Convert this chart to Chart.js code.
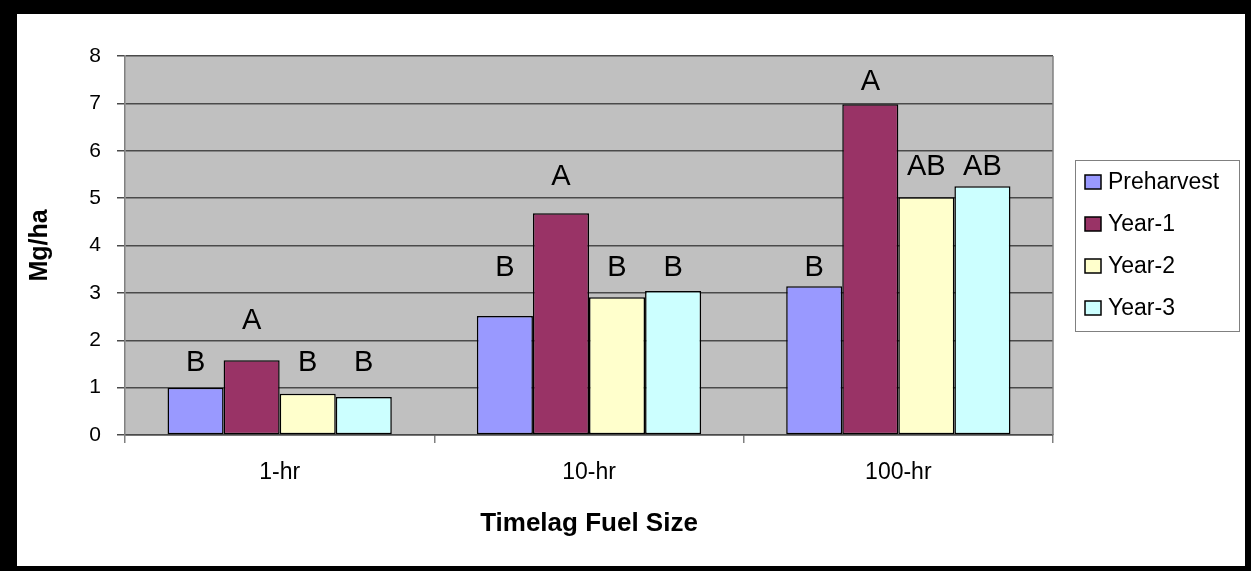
<!DOCTYPE html>
<html>
<head>
<meta charset="utf-8">
<script src="https://cdn.jsdelivr.net/npm/chart.js@4.4.1/dist/chart.umd.min.js"></script>
<style>
  html, body { margin: 0; padding: 0; background: #000; width: 1251px; height: 571px; overflow: hidden; }
  #frame { position: absolute; left: 17px; top: 14px; width: 1228px; height: 552px; background: #fff; }
  canvas { display: block; }
</style>
</head>
<body>
<div id="frame"><canvas id="chart" width="1228" height="552"></canvas></div>
<script>
const fuelSizes = ['1-hr', '10-hr', '100-hr'];
const seriesNames = ['Preharvest', 'Year-1', 'Year-2', 'Year-3'];

const preharvest = [1.0, 2.51, 3.14];
const year1 = [1.58, 4.68, 6.98];
const year2 = [0.87, 2.91, 5.02];
const year3 = [0.80, 3.04, 5.25];

// significance letters and the level (Mg/ha) they sit at
const preLetters = ['B', 'B', 'B'];
const yr1Letters = ['A', 'A', 'A'];
const yr2Letters = ['B', 'B', 'AB'];
const yr3Letters = ['B', 'B', 'AB'];
const preLevels = [1.52, 3.52, 3.52];
const yr1Levels = [2.41, 5.44, 7.45];
const yr2Levels = [1.52, 3.52, 5.65];
const yr3Levels = [1.52, 3.52, 5.65];

const yMin = 0;
const yMax = 8;

const FONT = '"Liberation Sans", Arial, sans-serif';
const colours = ['#9999FF', '#993366', '#FFFFCC', '#CCFFFF'];
const values = [preharvest, year1, year2, year3];
const letters = [preLetters, yr1Letters, yr2Letters, yr3Letters];
const levels = [preLevels, yr1Levels, yr2Levels, yr3Levels];

const datasets = [];
for (let i = 0; i < seriesNames.length; i++) {
  datasets.push({
    label: seriesNames[i],
    data: values[i],
    backgroundColor: colours[i],
    borderColor: '#000',
    borderWidth: 1.5,
    borderSkipped: false,
    categoryPercentage: 0.725,
    barPercentage: 1.0,
  });
}

// grey plot area + right edge
const plotArea = {
  id: 'plotArea',
  beforeDraw(chart) {
    const {ctx, chartArea: a} = chart;
    ctx.save();
    ctx.fillStyle = '#C0C0C0';
    ctx.fillRect(a.left, a.top, a.right - a.left, a.bottom - a.top);
    ctx.restore();
  },
  afterDraw(chart) {
    const {ctx, chartArea: a} = chart;
    ctx.save();
    ctx.strokeStyle = '#808080';
    ctx.lineWidth = 1.5;
    ctx.beginPath();
    ctx.moveTo(a.right, a.top);
    ctx.lineTo(a.right, a.bottom);
    ctx.stroke();
    ctx.restore();
  },
};

// letters over the bars
const letterLabels = {
  id: 'letterLabels',
  afterDatasetsDraw(chart) {
    const {ctx} = chart;
    const y = chart.scales.y;
    ctx.save();
    ctx.fillStyle = '#000';
    ctx.font = '29px ' + FONT;
    ctx.textAlign = 'center';
    ctx.textBaseline = 'middle';
    chart.data.datasets.forEach((ds, i) => {
      const meta = chart.getDatasetMeta(i);
      meta.data.forEach((bar, j) => {
        ctx.fillText(letters[i][j], bar.x, y.getPixelForValue(levels[i][j]));
      });
    });
    ctx.restore();
  },
};

// boxed legend on the right
const boxLegend = {
  id: 'boxLegend',
  afterDraw(chart) {
    const {ctx, chartArea: a} = chart;
    const left = a.right + 22;
    const width = 164;
    const rowH = 42;
    const height = 171;
    const top = (a.top + a.bottom) / 2 - height / 2;
    ctx.save();
    ctx.strokeStyle = '#808080';
    ctx.lineWidth = 1;
    ctx.strokeRect(left + 0.5, top + 0.5, width, height);
    ctx.font = '23px ' + FONT;
    ctx.textBaseline = 'middle';
    ctx.textAlign = 'left';
    chart.data.datasets.forEach((ds, i) => {
      const cy = top + 22 + i * rowH;
      ctx.fillStyle = ds.backgroundColor;
      ctx.fillRect(left + 10, cy - 7, 16, 14);
      ctx.strokeStyle = '#000';
      ctx.lineWidth = 1.5;
      ctx.strokeRect(left + 10, cy - 7, 16, 14);
      ctx.fillStyle = '#000';
      ctx.fillText(ds.label, left + 33, cy + 1);
    });
    ctx.restore();
  },
};

new Chart(document.getElementById('chart'), {
  type: 'bar',
  data: {labels: fuelSizes, datasets},
  options: {
    responsive: false,
    animation: false,
    events: [],
    layout: {padding: {left: 0, right: 192, top: 42, bottom: 0}},
    plugins: {
      legend: {display: false},
      tooltip: {enabled: false},
    },
    scales: {
      x: {
        afterFit(scale) { scale.height = 131; },
        grid: {
          display: true,
          drawOnChartArea: false,
          drawTicks: true,
          tickLength: 8,
          offset: true,
          color: '#808080',
          lineWidth: 1.5,
        },
        border: {display: true, color: '#4a4a4a', width: 1.5},
        ticks: {color: '#000', font: {family: FONT, size: 23}, padding: 16},
        title: {
          display: true,
          text: 'Timelag Fuel Size',
          color: '#000',
          font: {family: FONT, size: 26, weight: 'bold'},
          padding: {top: 4, bottom: 27},
        },
      },
      y: {
        min: yMin,
        max: yMax,
        afterFit(scale) { scale.width = 108; },
        grid: {
          color: '#4a4a4a',
          lineWidth: 1.5,
          drawTicks: true,
          tickLength: 8,
        },
        border: {display: true, color: '#808080', width: 1.5},
        ticks: {
          stepSize: 1,
          color: '#000',
          font: {family: FONT, size: 21},
          padding: 16,
        },
        title: {
          display: true,
          text: 'Mg/ha',
          color: '#000',
          font: {family: FONT, size: 25, weight: 'bold'},
          padding: {top: 8, bottom: 0},
        },
      },
    },
  },
  plugins: [plotArea, letterLabels, boxLegend],
});
</script>
</body>
</html>
